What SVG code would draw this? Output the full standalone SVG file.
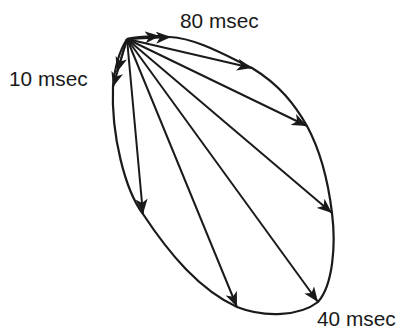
<svg xmlns="http://www.w3.org/2000/svg" width="398" height="331" viewBox="0 0 398 331">
<style>
.t{font-family:"Liberation Sans",Arial,sans-serif;font-size:20.8px;fill:#1a1a1a}
.b{fill:none;stroke:#1a1a1a;stroke-width:2.2;stroke-linejoin:round}
.a{stroke:#1a1a1a;stroke-width:2;fill:none;marker-end:url(#ah)}
</style>
<defs>
<marker id="ah" markerUnits="userSpaceOnUse" markerWidth="16" markerHeight="12" refX="15" refY="6" orient="auto" viewBox="0 0 16 12">
<path d="M0,0 L15,6 L0,12 L4,6 z" fill="#1a1a1a"/>
</marker>
</defs>
<rect width="398" height="331" fill="#fff"/>
<g id="boundary">
<path class="b" d="M127,39 C120,50 115,65 113,86 C111,135 125,190 143,214 C170,255 200,290 237,307 C265,318 300,316 318,302 C333,285 336,245 332,213 C328,180 320,150 307,126 C295,105 280,85 252,68 C225,55 195,38 170,37 C155,36 140,36 127,39"/>
</g>
<g id="connectors">
<line class="a" x1="127" y1="39" x2="160" y2="36"/>
<line class="a" x1="127" y1="39" x2="171" y2="37"/>
<line class="a" x1="127" y1="39" x2="252" y2="68"/>
<line class="a" x1="127" y1="39" x2="307" y2="126"/>
<line class="a" x1="127" y1="39" x2="332" y2="213"/>
<line class="a" x1="127" y1="39" x2="318" y2="302"/>
<line class="a" x1="127" y1="39" x2="237" y2="307"/>
<line class="a" x1="127" y1="39" x2="143" y2="214"/>
<line class="a" x1="127" y1="39" x2="117" y2="72"/>
<line class="a" x1="127" y1="39" x2="113" y2="87"/>
</g>
<g id="labels">
<text class="t" x="180" y="28">80 msec</text>
<text class="t" x="9" y="86">10 msec</text>
<text class="t" x="317" y="326">40 msec</text>
</g>
</svg>
